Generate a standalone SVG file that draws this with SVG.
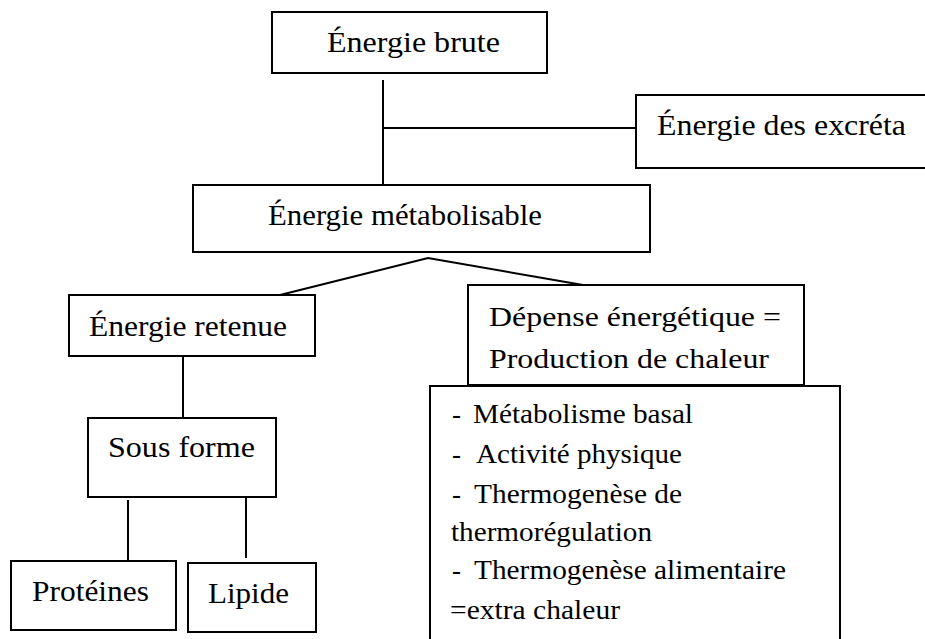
<svg xmlns="http://www.w3.org/2000/svg" width="925" height="639" viewBox="0 0 925 639">
<style>
.box{fill:#fff;stroke:#000;stroke-width:2}
.ln{fill:none;stroke:#000;stroke-width:2}
text{font-family:"Times New Roman",Times,Tinos,"Liberation Serif","Noto Serif","DejaVu Serif",FreeSerif,serif;fill:#000;font-size:29px}
.s{font-size:27px}
.m{font-size:28px}
</style>
<rect width="925" height="639" fill="#fff"/>
<g id="connectors">
<line class="ln" x1="383" y1="80" x2="383" y2="185"/>
<line class="ln" x1="383" y1="128" x2="636" y2="128"/>
<polyline class="ln" points="280,295 428,258 583,285"/>
<line class="ln" x1="183" y1="356" x2="183" y2="418"/>
<line class="ln" x1="128" y1="500" x2="128" y2="561"/>
<line class="ln" x1="246" y1="498" x2="246" y2="558"/>
</g>
<g id="brute">
<rect class="box" x="272" y="12" width="275" height="61"/>
<text x="327" y="52" textLength="173" lengthAdjust="spacingAndGlyphs">Énergie brute</text>
</g>
<g id="excreta">
<rect class="box" x="636" y="95" width="300" height="73"/>
<text x="657" y="135" textLength="249" lengthAdjust="spacingAndGlyphs">Énergie des excréta</text>
</g>
<g id="metabolisable">
<rect class="box" x="193" y="185" width="457" height="67"/>
<text x="268" y="225" textLength="274" lengthAdjust="spacingAndGlyphs">Énergie métabolisable</text>
</g>
<g id="retenue">
<rect class="box" x="69" y="295" width="246" height="61"/>
<text x="89" y="336" textLength="198" lengthAdjust="spacingAndGlyphs">Énergie retenue</text>
</g>
<g id="sousforme">
<rect class="box" x="88" y="418" width="188" height="79"/>
<text x="108" y="457" textLength="147" lengthAdjust="spacingAndGlyphs">Sous forme</text>
</g>
<g id="proteines">
<rect class="box" x="11" y="561" width="165" height="69"/>
<text x="32" y="601" textLength="117" lengthAdjust="spacingAndGlyphs">Protéines</text>
</g>
<g id="lipide">
<rect class="box" x="188" y="563" width="128" height="69"/>
<text x="208" y="603" textLength="81" lengthAdjust="spacingAndGlyphs">Lipide</text>
</g>
<g id="depense">
<rect class="box" x="468" y="285" width="336" height="100"/>
<text class="m" x="489" y="326" textLength="292" lengthAdjust="spacingAndGlyphs">Dépense énergétique =</text>
<text class="m" x="489" y="368" textLength="280" lengthAdjust="spacingAndGlyphs">Production de chaleur</text>
</g>
<g id="liste">
<path class="ln" d="M430,645 V386 H840 V645"/>
<text class="s" x="452" y="423">-</text>
<text class="s" x="473" y="423" textLength="220" lengthAdjust="spacingAndGlyphs">Métabolisme basal</text>
<text class="s" x="452" y="463">-</text>
<text class="s" x="476" y="463" textLength="206" lengthAdjust="spacingAndGlyphs">Activité physique</text>
<text class="s" x="452" y="503">-</text>
<text class="s" x="474" y="503" textLength="208" lengthAdjust="spacingAndGlyphs">Thermogenèse de</text>
<text class="s" x="451" y="541" textLength="201" lengthAdjust="spacingAndGlyphs">thermorégulation</text>
<text class="s" x="452" y="579">-</text>
<text class="s" x="474" y="579" textLength="312" lengthAdjust="spacingAndGlyphs">Thermogenèse alimentaire</text>
<text class="s" x="450" y="619" textLength="170" lengthAdjust="spacingAndGlyphs">=extra chaleur</text>
</g>
</svg>
